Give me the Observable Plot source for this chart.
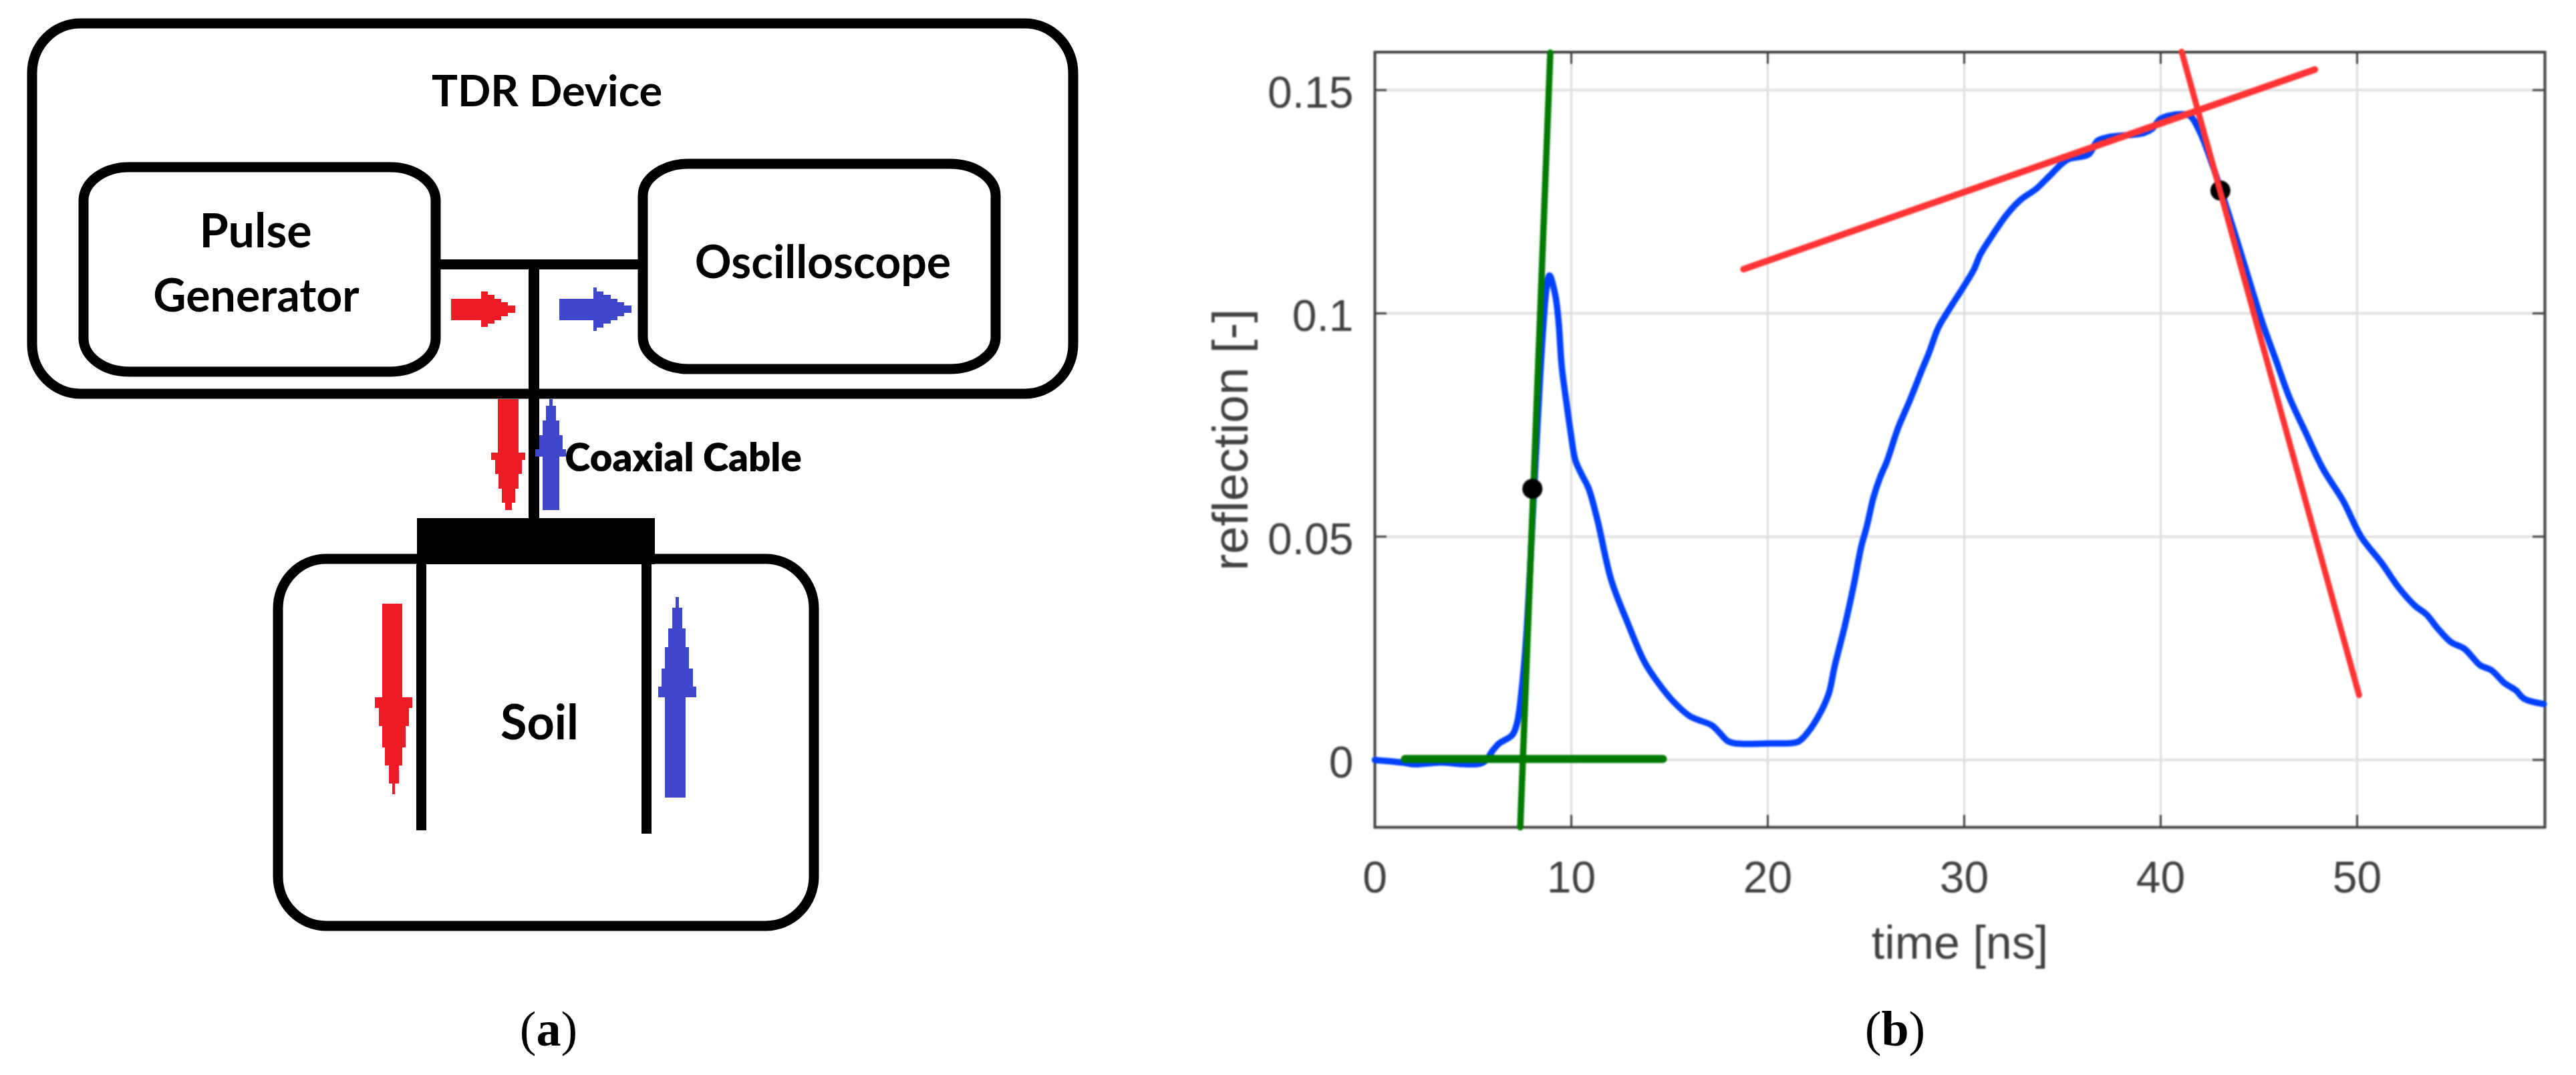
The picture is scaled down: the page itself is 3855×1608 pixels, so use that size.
<!DOCTYPE html>
<html>
<head>
<meta charset="utf-8">
<script src="https://cdn.jsdelivr.net/npm/d3@7"></script>
<script src="https://cdn.jsdelivr.net/npm/@observablehq/plot@0.6"></script>
<style>
html,body{margin:0;padding:0;background:#fff;width:3855px;height:1608px;overflow:hidden}
#stage{position:relative;width:3855px;height:1608px}
#left,#right{position:absolute;top:0}
#left{left:0}
#right{left:1800px;filter:blur(1.2px)}
.cap{position:absolute;top:1497px;font-family:"Liberation Serif",serif;font-size:74px;line-height:84px;color:#000;transform:translateX(-50%)}
</style>
</head>
<body>
<div id="stage">
  <div id="left"></div>
  <div id="right"></div>
  <div class="cap" style="left:821px">(<b>a</b>)</div>
  <div class="cap" style="left:2836px">(<b>b</b>)</div>
</div>
<script>
// ---- Panel (b): reflection trace ----
const traceTime = [0,1.4,2,3.2,5.5,6,6.3,7,7.24,7.47,7.7,8.1,8.54,8.75,8.89,9.18,9.35,9.51,9.73,9.97,10.2,10.54,10.88,11.33,12.03,12.83,13.74,14.43,15.23,16.03,17.17,17.5,17.97,18.36,20.14,21.5,21.85,22.53,23.1,23.4,23.91,24.36,24.76,25.04,25.38,25.72,26.06,26.63,27.2,27.88,28.2,28.67,29.12,29.97,30.48,30.82,31.39,32.18,32.86,33.67,34.35,35.24,36.33,36.77,37.28,39.15,39.56,40,41.02,41.5,41.99,42.67,43.58,44.27,45.18,45.87,46.55,47.35,48.26,49.29,50.2,51.23,52.15,52.95,53.52,54.09,54.77,55.46,56.26,56.83,57.5,58.08,58.5,59.5];
const traceValue = [0,-0.0006,-0.001,-0.0006,-0.0006,0.0021,0.0036,0.0056,0.0083,0.0156,0.0272,0.06,0.095,0.106,0.1085,0.1042,0.0982,0.0882,0.0807,0.0732,0.0672,0.0638,0.0608,0.0537,0.0403,0.0311,0.0218,0.0172,0.0129,0.0098,0.0077,0.0063,0.0042,0.0037,0.0037,0.004,0.0052,0.0094,0.0148,0.0209,0.0298,0.0388,0.0478,0.0523,0.0588,0.0633,0.0668,0.0743,0.0802,0.0877,0.0911,0.0967,0.1001,0.106,0.1097,0.1132,0.1172,0.1222,0.1254,0.1279,0.1308,0.1344,0.1356,0.1386,0.1394,0.1404,0.1413,0.1436,0.1446,0.1442,0.1407,0.1328,0.1206,0.1108,0.0979,0.0895,0.0812,0.0736,0.0652,0.058,0.05,0.0442,0.0384,0.0345,0.0326,0.0295,0.0264,0.0249,0.0212,0.0201,0.0172,0.0156,0.0137,0.0125];
const redTangentA = [[18.77,0.1099],[47.85,0.1546]];
const redTangentB = [[41.07,0.1586],[50.1,0.0145]];
const greenTangentA = [[8.93,0.1584],[7.4,-0.0151]];
const greenTangentB = [[1.53,0.0002],[14.66,0.0002]];
const greenDot = [[8.02,0.0607]];
const redDot = [[43.04,0.1275]];
const xTicks = [0,10,20,30,40,50];
const yTicks = [0,0.05,0.1,0.15];
const yTickLabels = ["0","0.05","0.1","0.15"];
const xTitle = "time [ns]";
const yTitle = "reflection [-]";
const trace = traceTime.map((t,i)=>({t,v:traceValue[i]}));

// ---- Panel (a): block diagram, in diagram units ----
const boxes = [
  {x1:48,x2:1606,y1:35,y2:589,rx:72,ry:74},
  {x1:125,x2:652,y1:250,y2:556,rx:68,ry:50},
  {x1:962,x2:1490,y1:245,y2:552,rx:68,ry:48},
  {x1:416,x2:1218,y1:836,y2:1385,rx:72,ry:74}
];
const wires = [
  [658,957,388,403],[791,807,395,775],[624,980,775,844],[623,638,844,1242],[960,975,844,1247]
];
const redArrows = [
  [675,720,447,479],[720,730,436,489],[730,740,441,484],[740,750,447,479],[750,760,452,473],[760,771,457,468],
  [745,776,597,677],[735,786,677,688],[741,781,688,709],[746,776,709,731],[751,771,731,752],[756,766,752,763],
  [572,602,903,1043],[561,617,1043,1059],[567,612,1059,1086],[572,607,1086,1118],[576,602,1118,1145],[582,597,1145,1172],[587,591,1172,1188]
];
const blueArrows = [
  [837,888,447,479],[888,893,430,495],[893,903,436,490],[903,914,441,484],[914,924,447,479],[924,934,452,473],[934,945,457,468],
  [812,837,683,763],[801,847,672,683],[807,842,651,672],[812,837,629,651],[817,832,607,629],[822,827,597,607],
  [995,1026,1043,1193],[985,1042,1027,1043],[990,1037,1000,1027],[995,1031,968,1000],[1000,1026,940,968],[1006,1021,909,940],[1011,1016,893,909]
];
const labels = [
  {text:"TDR Device",x:818,y:138,size:65},
  {text:"Pulse",x:382,y:347,size:70},
  {text:"Generator",x:383,y:444,size:68},
  {text:"Oscilloscope",x:1231,y:394,size:68},
  {text:"Soil",x:807,y:1082,size:72}
];
const coaxLabel = [{text:"Coaxial Cable",x:1022,y:686}];

const asRect = a => ({x1:a[0],x2:a[1],y1:a[2],y2:a[3]});
const font = "Lato, 'Noto Sans', sans-serif";

const leftPlot = Plot.plot({
  width:1800,height:1608,margin:0,
  x:{domain:[0,1800],range:[0,1800],axis:null},
  y:{domain:[0,1608],range:[0,1608],axis:null},
  style:{background:"transparent"},
  marks:[
    ...boxes.map(b=>Plot.rect([b],{x1:"x1",x2:"x2",y1:"y1",y2:"y2",fill:"none",stroke:"#000",strokeWidth:15,rx:b.rx,ry:b.ry})),
    Plot.rect(wires.map(asRect),{x1:"x1",x2:"x2",y1:"y1",y2:"y2",fill:"#000"}),
    Plot.rect(redArrows.map(asRect),{x1:"x1",x2:"x2",y1:"y1",y2:"y2",fill:"#ed1c24"}),
    Plot.rect(blueArrows.map(asRect),{x1:"x1",x2:"x2",y1:"y1",y2:"y2",fill:"#3f48cc"}),
    ...labels.map(l=>Plot.text([l],{x:"x",y:"y",text:"text",fontSize:l.size,fontFamily:font,fontWeight:700,fill:"#000"})),
    Plot.text(coaxLabel,{x:"x",y:"y",text:"text",fontSize:58,fontFamily:font,fontWeight:800,fill:"#000"})
  ]
});
document.getElementById("left").append(leftPlot);

const axisFont = "'Liberation Sans', Arial, sans-serif";
const ink = "#404040";
const plotW = 3808-2057, plotH = 1237-77.5;
const tickLen = 18;
const rightPlot = Plot.plot({
  width:2055,height:1608,
  marginLeft:257,marginRight:47,marginTop:77.5,marginBottom:371,
  x:{domain:[0,59.56],axis:null},
  y:{domain:[-0.0151,0.1585],axis:null},
  style:{background:"transparent"},
  marks:[
    Plot.gridX(xTicks,{stroke:"#dcdcdc",strokeOpacity:1,strokeWidth:3}),
    Plot.gridY(yTicks,{stroke:"#e2e2e2",strokeOpacity:1,strokeWidth:4}),
    Plot.ruleX(xTicks,{stroke:ink,strokeWidth:3,insetBottom:plotH-tickLen}),
    Plot.ruleX(xTicks,{stroke:ink,strokeWidth:3,insetTop:plotH-tickLen}),
    Plot.ruleY(yTicks,{stroke:ink,strokeWidth:3,insetRight:plotW-tickLen}),
    Plot.ruleY(yTicks,{stroke:ink,strokeWidth:3,insetLeft:plotW-tickLen}),
    Plot.frame({stroke:ink,strokeWidth:4}),
    Plot.axisX(xTicks,{tickSize:0,tickPadding:51,fontSize:66,fontFamily:axisFont,fill:ink,label:null,tickFormat:d=>String(d)}),
    Plot.axisY(yTicks,{tickSize:0,tickPadding:32,fontSize:66,fontFamily:axisFont,fill:ink,label:null,dy:5,tickFormat:d=>yTickLabels[yTicks.indexOf(d)]}),
    Plot.text([xTitle],{frameAnchor:"bottom",dy:196,fontSize:70,fontFamily:axisFont,fill:ink}),
    Plot.text([yTitle],{frameAnchor:"left",rotate:-90,textAnchor:"middle",dx:-215,fontSize:75,fontFamily:axisFont,fill:ink}),
    Plot.line(trace,{x:"t",y:"v",stroke:"#0040ff",strokeWidth:9.5,curve:"catmull-rom"}),
    Plot.line(greenTangentA,{stroke:"#007a00",strokeWidth:9.5}),
    Plot.line(greenTangentB,{stroke:"#007a00",strokeWidth:12}),
    Plot.dot(greenDot,{r:15,fill:"#000"}),
    Plot.dot(redDot,{r:15,fill:"#000"}),
    Plot.line(redTangentA,{stroke:"#ff3333",strokeWidth:10}),
    Plot.line(redTangentB,{stroke:"#ff3333",strokeWidth:9})
  ]
});
document.getElementById("right").append(rightPlot);
</script>
</body>
</html>
